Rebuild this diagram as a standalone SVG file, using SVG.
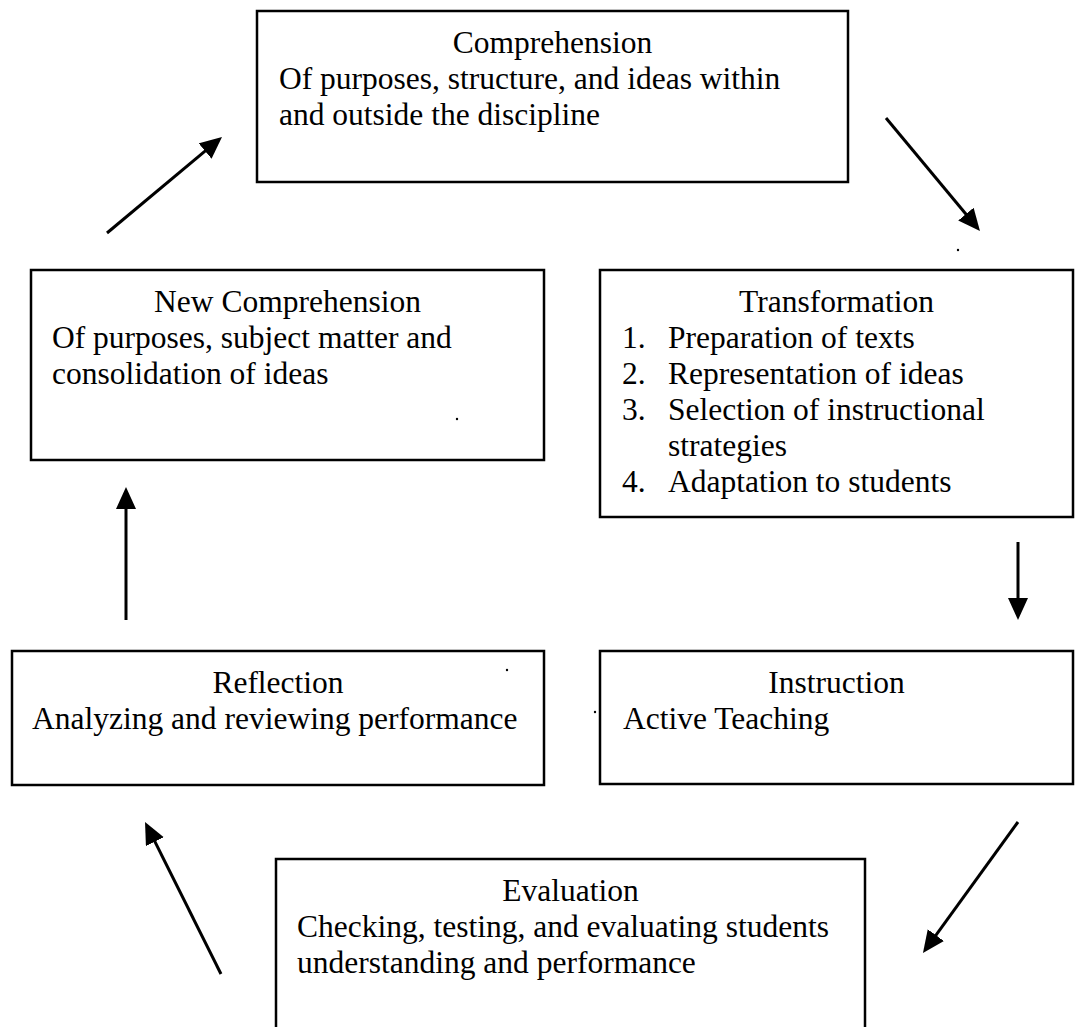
<svg xmlns="http://www.w3.org/2000/svg" width="1075" height="1027" viewBox="0 0 1075 1027">
<defs>
<style>
.box{fill:#fff;stroke:#000;stroke-width:2.5}
.t{font-family:"Liberation Serif","Times New Roman",serif;font-size:31.5px;fill:#000}
.c{text-anchor:middle}
.arr{stroke:#000;stroke-width:3;fill:none;marker-end:url(#ah)}
.dot{fill:#000}
</style>
<marker id="ah" markerUnits="userSpaceOnUse" markerWidth="24" markerHeight="22" refX="10" refY="10" orient="auto">
<path d="M0,0 L22,10 L0,20 z" fill="#000"/>
</marker>
</defs>
<rect width="1075" height="1027" fill="#fff"/>
<g id="comprehension">
<rect class="box" x="257" y="11" width="591" height="171"/>
<text class="t c" x="552.5" y="53">Comprehension</text>
<text class="t" x="279" y="89">Of purposes, structure, and ideas within</text>
<text class="t" x="279" y="125">and outside the discipline</text>
</g>
<g id="new-comprehension">
<rect class="box" x="31" y="270" width="513" height="190"/>
<text class="t c" x="287.5" y="312">New Comprehension</text>
<text class="t" x="52" y="348">Of purposes, subject matter and</text>
<text class="t" x="52" y="384">consolidation of ideas</text>
</g>
<g id="transformation">
<rect class="box" x="600" y="270" width="473" height="247"/>
<text class="t c" x="836.5" y="312">Transformation</text>
<text class="t" x="622" y="348">1.</text>
<text class="t" x="668" y="348">Preparation of texts</text>
<text class="t" x="622" y="384">2.</text>
<text class="t" x="668" y="384">Representation of ideas</text>
<text class="t" x="622" y="420">3.</text>
<text class="t" x="668" y="420">Selection of instructional</text>
<text class="t" x="668" y="456">strategies</text>
<text class="t" x="622" y="492">4.</text>
<text class="t" x="668" y="492">Adaptation to students</text>
</g>
<g id="reflection">
<rect class="box" x="12" y="651" width="532" height="134"/>
<text class="t c" x="278" y="693">Reflection</text>
<text class="t" x="32" y="729">Analyzing and reviewing performance</text>
</g>
<g id="instruction">
<rect class="box" x="600" y="651" width="473" height="133"/>
<text class="t c" x="836.5" y="693">Instruction</text>
<text class="t" x="623" y="729">Active Teaching</text>
</g>
<g id="evaluation">
<rect class="box" x="276" y="859" width="589" height="200"/>
<text class="t c" x="570.5" y="901">Evaluation</text>
<text class="t" x="297" y="937">Checking, testing, and evaluating students</text>
<text class="t" x="297" y="973">understanding and performance</text>
</g>
<g id="connectors">
<line class="arr" x1="107" y1="233" x2="212.8" y2="144.7"/>
<line class="arr" x1="886" y1="118" x2="972.3" y2="221.8"/>
<line class="arr" x1="1018" y1="542" x2="1018" y2="608"/>
<line class="arr" x1="1018" y1="822" x2="930" y2="943.3"/>
<line class="arr" x1="221" y1="974" x2="150.4" y2="832.7"/>
<line class="arr" x1="126" y1="620" x2="126" y2="499"/>
</g>
<g id="specks">
<circle class="dot" cx="457" cy="419" r="1.2"/>
<circle class="dot" cx="958" cy="250" r="1.2"/>
<circle class="dot" cx="507" cy="670" r="1.2"/>
<circle class="dot" cx="595" cy="712" r="1.2"/>
</g>
</svg>
